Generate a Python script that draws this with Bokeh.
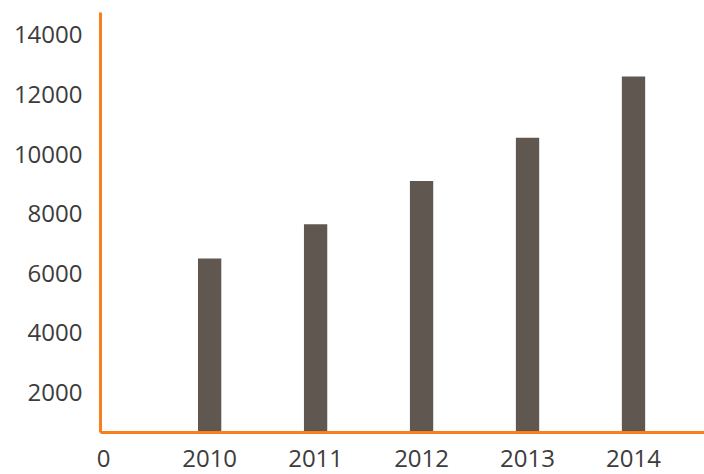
from bokeh.plotting import figure
from bokeh.models import FixedTicker, Range1d
from bokeh.embed import file_html
from bokeh.resources import INLINE

years = ["2010", "2011", "2012", "2013", "2014"]
values = [6500, 7650, 9100, 10550, 12600]
positions = [1, 2, 3, 4, 5]
y_ticks = [2000, 4000, 6000, 8000, 10000, 12000, 14000]
origin_label = "0"

p = figure(width=704, height=474, output_backend="svg", toolbar_location=None,
           x_range=Range1d(-0.03, 5.67), y_range=Range1d(660, 14750),
           min_border_left=100, min_border_right=0, min_border_top=12, min_border_bottom=42)

p.vbar(x=positions, top=values, bottom=0, width=0.22,
       fill_color="#615751", line_color=None)

orange = "#F7801A"
font = "Open Sans"
txt = "#3c3c3c"

p.xgrid.visible = False
p.ygrid.visible = False
p.outline_line_color = None
p.background_fill_color = "white"
p.border_fill_color = "white"

xa = p.xaxis[0]
xa.ticker = FixedTicker(ticks=[0] + positions)
xa.major_label_overrides = {0: origin_label, **{pos: y for pos, y in zip(positions, years)}}
xa.axis_line_color = orange
xa.axis_line_width = 3
xa.major_tick_line_color = None
xa.minor_tick_line_color = None
xa.major_label_text_font = font
xa.major_label_text_font_size = "24px"
xa.major_label_text_color = txt
xa.major_label_standoff = 11

ya = p.yaxis[0]
ya.ticker = FixedTicker(ticks=y_ticks)
ya.axis_line_color = orange
ya.axis_line_width = 3
ya.major_tick_line_color = None
ya.minor_tick_line_color = None
ya.major_label_text_font = font
ya.major_label_text_font_size = "24px"
ya.major_label_text_color = txt
ya.major_label_standoff = 12

open("out.html", "w").write(file_html(p, INLINE))
